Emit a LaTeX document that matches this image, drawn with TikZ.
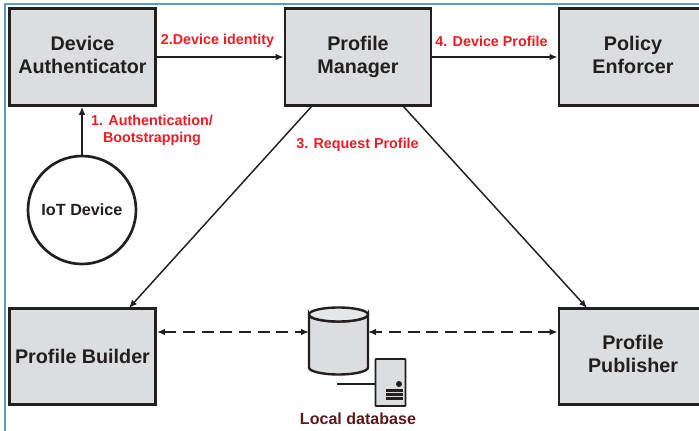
\documentclass[tikz,border=0pt]{standalone}
\usepackage{fontspec}
\setmainfont{Liberation Sans}
\usetikzlibrary{arrows.meta}
\definecolor{boxfill}{HTML}{DCDDDE}
\definecolor{ink}{HTML}{231F20}
\definecolor{lab}{HTML}{ED1C24}
\definecolor{dbtxt}{HTML}{5A1A1A}
\definecolor{frame}{HTML}{5B9BC8}
\tikzset{
 x=0.75pt,y=-0.75pt,
 blockbox/.style={draw=ink,fill=boxfill,line width=2.2pt,minimum width=109.5pt,minimum height=72.5pt,inner sep=0pt,align=center,font=\fontsize{14.8}{17.3}\selectfont\bfseries,text=ink},
 conn/.style={draw=ink,line width=1.1pt,-{Latex[length=6pt,width=5pt]}},
 dconn/.style={draw=ink,line width=1.1pt,dash pattern=on 9pt off 5pt,{Latex[length=6pt,width=5pt]}-{Latex[length=6pt,width=5pt]}},
 lbl/.style={text=lab,font=\fontsize{10.75}{12.8}\selectfont\bfseries,align=center,inner sep=0pt},
}
\begin{document}
\begin{tikzpicture}
\useasboundingbox (0,0) rectangle (699,431);
\fill[white] (0,0) rectangle (699,431);
\draw[frame,line width=1.1pt] (5,431) -- (5,4) -- (699,4);
\node[blockbox] (auth) at (82.5,57) {\strut Device\\\strut Authenticator};
\node[blockbox] (mgr) at (358,57) {\strut Profile\\\strut Manager};
\begin{scope}
\clip (0,0) rectangle (699,431);
\node[blockbox,minimum width=111pt] (enf) at (633,57) {\strut Policy\\\strut Enforcer};
\node[blockbox,minimum width=111pt] (pub) at (633,356.5) {\strut Profile\\\strut Publisher};
\end{scope}
\node[blockbox] (bld) at (82.5,356.5) {Profile Builder};
\node[circle,draw=ink,line width=2pt,fill=white,minimum size=81pt,inner sep=0pt,font=\fontsize{12.15}{14}\selectfont\bfseries,text=ink] (iot) at (82,210) {IoT Device};
\draw[conn] (iot.north) -- (auth.south -| iot.north);
\draw[conn] (auth.east) -- (mgr.west);
\draw[conn] (mgr.east) -- (enf.west);
\coordinate (mb) at (312,106);
\coordinate (mp) at (403,106);
\coordinate (bt) at (129,308);
\coordinate (pt) at (587,308);
\draw[conn] (mb) -- (bt);
\draw[conn] (mp) -- (pt);
% database
\draw[ink,line width=1.8pt,fill=boxfill] (309,314.5) -- (309,367.5) arc[start angle=180,end angle=0,x radius=29.5,y radius=7] -- (368,314.5) arc[start angle=0,end angle=180,x radius=29.5,y radius=7] -- cycle;
\draw[ink,line width=1.8pt,fill=boxfill!70!white] (338.5,314.5) ellipse[x radius=29.5,y radius=7];
\coordinate (dbl) at (309,332);
\coordinate (dbr) at (368,332);
\draw[dconn] (bld.east |- dbl) -- (dbl);
\draw[dconn] (pub.west |- dbr) -- (dbr);
% server
\draw[ink,line width=1.4pt,fill=boxfill,rounded corners=0.5pt] (375.5,359) rectangle (405.5,406);
\draw[ink,line width=1.4pt] (337,384) -- (375.5,384);
\fill[ink] (399,384) circle (3);
\fill[ink] (386,389) rectangle (403,399.5);
\draw[boxfill,line width=0.5pt] (386,392.5) -- (403,392.5) (386,396) -- (403,396);
\node[font=\fontsize{12.05}{14}\selectfont\bfseries,text=dbtxt,inner sep=0pt] (dbname) at (358,419) {Local database};
% labels
\node[lbl] (l1) at (152,131) {\strut 1. Authentication/\\\strut Bootstrapping};
\node[lbl] (l2) at (217.5,41) {2.Device identity};
\node[lbl] (l3) at (357.5,145) {3. Request Profile};
\node[lbl] (l4) at (491.5,41) {4. Device Profile};
\end{tikzpicture}
\end{document}
